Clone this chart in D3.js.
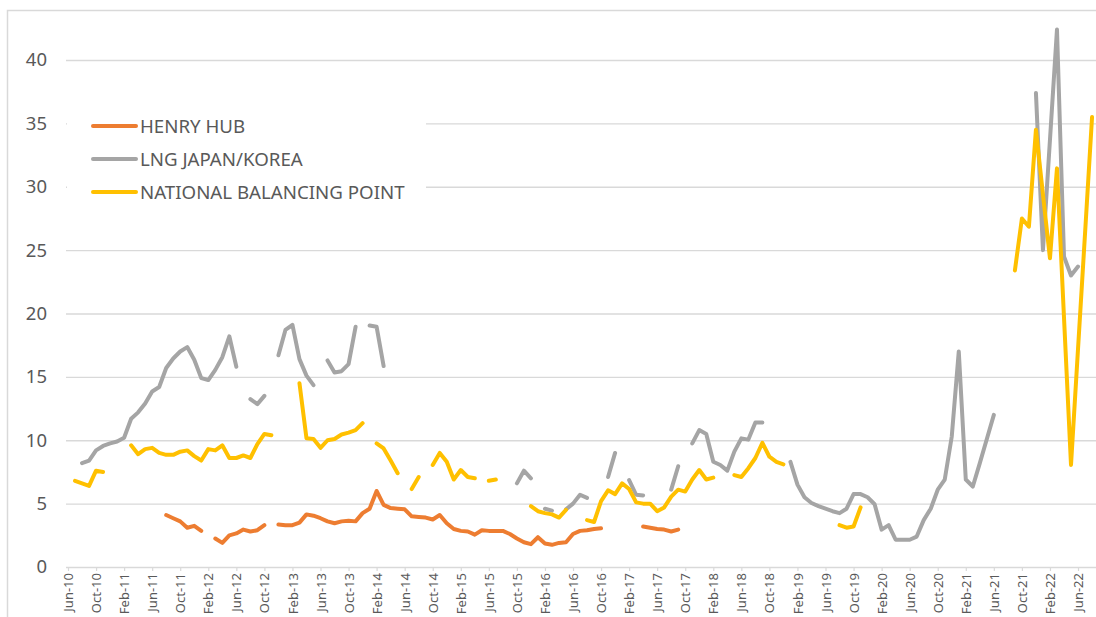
<!DOCTYPE html>
<html>
<head>
<meta charset="utf-8">
<script src="https://cdn.jsdelivr.net/npm/d3@7"></script>
<style>
  body{margin:0;background:#fff;}
  svg{display:block;font-family:"Noto Sans",sans-serif;}
</style>
</head>
<body>
<script>
// months Jun-10 .. Aug-22
var months=d3.timeMonth.range(new Date(2010,5,1),new Date(2022,8,1)).map(d3.timeFormat("%b-%y"));
var tickLabels=months.filter(function(d,i){return i%4==0;});
var yTicks=[0,5,10,15,20,25,30,35,40];
var seriesNames=["HENRY HUB","LNG JAPAN/KOREA","NATIONAL BALANCING POINT"];

var henryHub=[
  null,null,null,null,null,null,null,null,null,null,null,null,null,null,
  4.1,3.85,3.6,3.1,3.25,2.85,
  null,
  2.25,1.9,2.5,2.65,2.95,2.8,2.9,3.3,
  null,
  3.35,3.3,3.3,3.5,4.15,4.05,3.85,3.6,3.45,3.6,3.65,3.6,4.25,4.6,6.0,4.9,4.65,4.6,4.55,
  4.0,3.95,3.9,3.75,4.1,3.45,3.0,2.85,2.8,2.55,2.9,2.85,2.85,2.85,2.6,2.25,1.95,1.8,2.35,
  1.85,1.75,1.9,1.95,2.6,2.85,2.9,3.0,3.05,
  null,null,null,null,null,
  3.2,3.1,3.0,2.95,2.8,2.95,
  null,null,null,null,null,null,null,null,null,null,null,null,null,null,null,null,null,
  null,null,null,null,null,null,null,null,null,null,null,null,null,null,null,null,null,
  null,null,null,null,null,null,null,null,null,null,null,null,null,null,null,null,null,
  null,null,null,null,null,null,null,null
];

var lngJapanKorea=[
  null,null,
  8.2,8.4,9.2,9.55,9.75,9.9,10.2,11.7,12.2,12.9,13.85,14.2,15.7,16.45,17.0,17.35,16.35,
  14.9,14.75,15.55,16.55,18.2,15.8,
  null,
  13.25,12.85,13.5,
  null,
  16.7,18.7,19.1,16.4,15.1,14.35,
  null,
  16.3,15.35,15.45,16.0,18.95,
  null,
  19.05,18.95,15.85,
  null,null,null,null,null,null,null,null,null,null,null,null,null,null,null,null,null,null,
  6.6,7.6,7.0,
  null,
  4.6,4.45,
  null,
  4.55,5.0,5.7,5.45,
  null,null,
  7.1,9.0,
  null,
  6.85,5.7,5.65,
  null,null,null,
  6.1,7.95,
  null,
  9.75,10.8,10.5,8.3,8.05,7.6,9.1,10.15,10.05,11.4,11.4,
  null,null,null,
  8.3,6.5,5.5,5.05,4.8,4.6,4.4,4.25,4.6,5.75,5.75,5.5,4.95,2.95,3.3,2.15,2.15,2.15,2.4,
  3.7,4.6,6.1,6.9,10.3,17.0,6.9,6.35,8.2,10.1,12.0,
  null,null,null,null,null,
  37.4,25.0,33.7,42.4,24.5,23.0,23.7,
  null,null
];

var nbp=[
  null,
  6.8,6.6,6.4,7.6,7.5,
  null,null,null,
  9.6,8.9,9.3,9.4,9.0,8.85,8.85,9.1,9.2,8.75,8.4,9.3,9.2,9.6,8.6,8.6,8.8,8.6,9.7,10.5,10.4,
  null,null,null,
  14.5,10.15,10.1,9.4,10.0,10.1,10.45,10.6,10.8,11.35,
  null,
  9.75,9.35,8.4,7.4,
  null,
  6.15,7.1,
  null,
  8.05,9.0,8.3,6.9,7.65,7.1,7.0,
  null,
  6.8,6.9,
  null,null,null,null,
  4.8,4.4,4.25,4.15,3.9,4.5,
  null,null,
  3.7,3.55,5.2,6.05,5.75,6.6,6.15,5.1,5.0,5.0,4.4,4.7,5.55,6.1,5.95,6.9,7.65,6.9,7.05,
  null,null,
  7.25,7.1,7.8,8.6,9.8,8.7,8.3,8.1,
  null,null,null,null,null,null,null,
  3.3,3.1,3.2,4.7,
  null,null,null,null,null,null,null,null,null,null,null,null,null,null,null,null,null,
  null,null,null,null,
  23.4,27.5,26.85,34.5,29.4,24.35,31.45,19.7,8.05,17.2,26.3,35.5
];

var colors=["#ED7D31","#A5A5A5","#FFC000"];

var drawGraph=function(w,h)
{
  var svg=d3.select("body").append("svg")
            .attr("width",w)
            .attr("height",h);

  //chart border
  svg.append("rect")
     .attr("x",7.5)
     .attr("y",10.5)
     .attr("width",1200)
     .attr("height",700)
     .attr("fill","none")
     .attr("stroke","#d9d9d9")
     .attr("stroke-width",1.5);

  var plotLeft=66;
  var plotRight=1110;

  var xScale=d3.scalePoint()
               .domain(months)
               .range([68,68+7.014*(months.length-1)]);
  var yScale=d3.scaleLinear()
               .domain([0,40])
               .range([567,60]);

  //y axis with gridlines
  var yAxis=d3.axisLeft(yScale)
              .tickValues(yTicks)
              .tickSize(-(plotRight-plotLeft))
              .tickPadding(19);
  var yG=svg.append("g").classed("yAxis",true)
            .attr("transform","translate("+plotLeft+",0)")
            .call(yAxis);
  yG.select(".domain").remove();
  yG.selectAll("line")
    .attr("stroke","#d9d9d9")
    .attr("stroke-width",1.4);
  yG.selectAll("text")
    .attr("fill","#595959")
    .attr("font-size","18.5px")
    .attr("font-family","Noto Sans");

  //x axis
  var xAxis=d3.axisBottom(xScale)
              .tickValues(tickLabels)
              .tickSize(4);
  var xG=svg.append("g").classed("xAxis",true)
            .attr("transform","translate(0,567)")
            .call(xAxis);
  xG.select(".domain").remove();
  xG.selectAll("line").attr("stroke","#d9d9d9").attr("stroke-width",1.2);
  xG.selectAll("text")
    .attr("fill","#595959")
    .attr("font-size","13px")
    .attr("font-family","Noto Sans")
    .attr("text-anchor","end")
    .attr("transform","rotate(-90)")
    .attr("x",-6)
    .attr("y",0)
    .attr("dy","0.35em");

  //lines
  var allSeries=[henryHub,lngJapanKorea,nbp];
  var line=d3.line()
             .defined(function(d){return d!=null;})
             .x(function(d,i){return xScale(months[i]);})
             .y(function(d){return yScale(d);});

  var plotLand=svg.append("g").classed("plot",true);
  plotLand.selectAll("path")
          .data(allSeries)
          .enter()
          .append("path")
          .attr("d",line)
          .attr("fill","none")
          .attr("stroke",function(d,i){return colors[i];})
          .attr("stroke-width",4)
          .attr("stroke-linejoin","round")
          .attr("stroke-linecap","round");

  //the legend...
  var legend=svg.append("g").classed("legend",true);
  legend.append("rect")
        .attr("x",67)
        .attr("y",100)
        .attr("width",359)
        .attr("height",115)
        .attr("fill","#fff");

  var legendLines=legend.selectAll("g")
                        .data(seriesNames)
                        .enter()
                        .append("g")
                        .attr("transform",function(d,i){
                          return "translate(0,"+(126+i*33)+")";});
  legendLines.append("line")
             .attr("x1",93)
             .attr("x2",136)
             .attr("y1",0)
             .attr("y2",0)
             .attr("stroke",function(d,i){return colors[i];})
             .attr("stroke-width",4)
             .attr("stroke-linecap","round");
  legendLines.append("text")
             .attr("x",140)
             .attr("y",0)
             .attr("dy","0.35em")
             .attr("fill","#595959")
             .attr("font-size","18.7px")
             .text(function(d){return d;});
};

drawGraph(1096,617);
</script>
</body>
</html>
